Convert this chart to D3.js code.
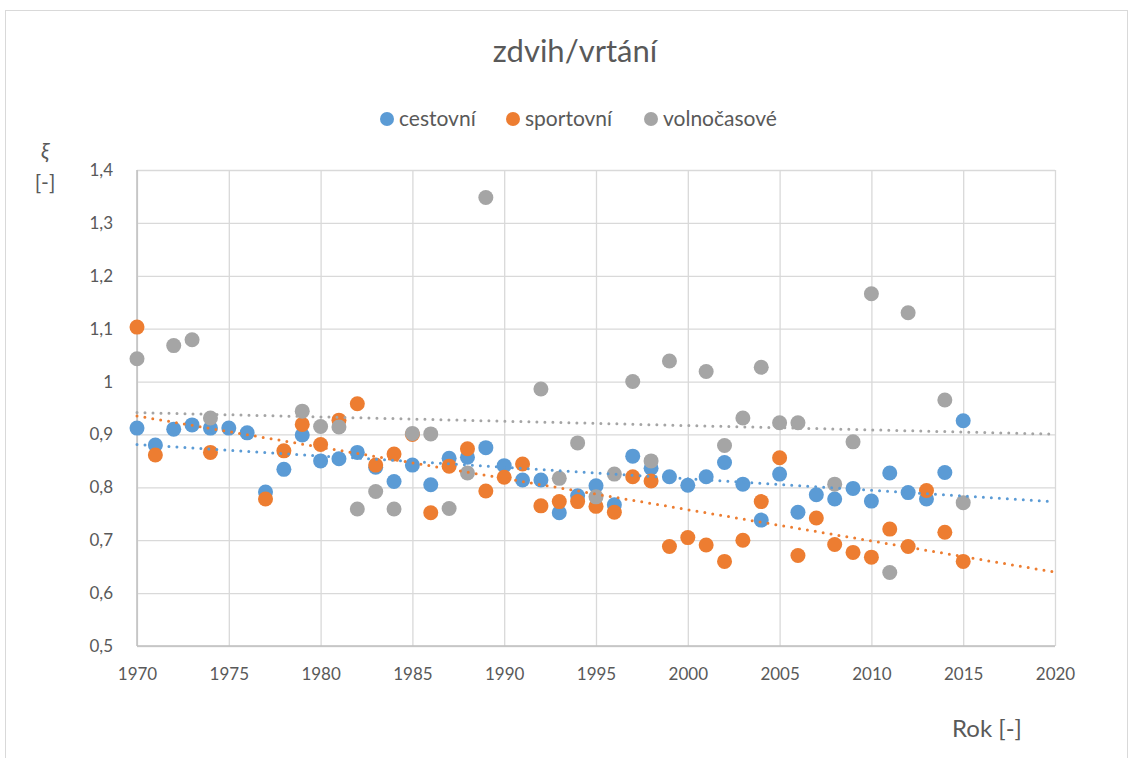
<!DOCTYPE html>
<html>
<head>
<meta charset="utf-8">
<script src="https://cdn.jsdelivr.net/npm/d3@7"></script>
<style>
  body { margin: 0; background: #fff; }
  text { font-family: Lato, "Open Sans", sans-serif; fill: #595959; }
</style>
</head>
<body>
<script>
// series data
var seriesNames = ["cestovní", "sportovní", "volnočasové"];
var seriesColors = ["#5b9bd5", "#ed7d31", "#a5a5a5"];

var cestovniYears = d3.range(1970, 2016);
var cestovniValues = [0.912, 0.880, 0.910, 0.918, 0.912, 0.912, 0.903, 0.791, 0.834, 0.899,
  0.850, 0.854, 0.866, 0.838, 0.811, 0.842, 0.805, 0.855, 0.857, 0.875,
  0.841, 0.814, 0.814, 0.752, 0.784, 0.803, 0.767, 0.859, 0.836, 0.820,
  0.804, 0.820, 0.847, 0.806, 0.738, 0.825, 0.753, 0.786, 0.778, 0.798,
  0.774, 0.827, 0.790, 0.778, 0.828, 0.926];

var sportovniYears = [1970, 1971, 1974, 1977, 1978, 1979, 1980, 1981, 1982, 1983, 1984, 1985,
  1986, 1987, 1988, 1989, 1990, 1991, 1992, 1993, 1994, 1995, 1996, 1997, 1998, 1999, 2000,
  2001, 2002, 2003, 2004, 2005, 2006, 2007, 2008, 2009, 2010, 2011, 2012, 2013, 2014, 2015];
var sportovniValues = [1.103, 0.861, 0.866, 0.778, 0.869, 0.919, 0.881, 0.927, 0.958, 0.842, 0.863, 0.900,
  0.752, 0.840, 0.873, 0.793, 0.819, 0.844, 0.765, 0.773, 0.773, 0.764, 0.753, 0.820, 0.812, 0.688, 0.705,
  0.691, 0.660, 0.700, 0.773, 0.856, 0.671, 0.742, 0.692, 0.677, 0.668, 0.721, 0.688, 0.794, 0.715, 0.660];

var volnocasoveYears = [1970, 1972, 1973, 1974, 1979, 1980, 1981, 1982, 1983, 1984, 1985, 1986,
  1987, 1988, 1989, 1992, 1993, 1994, 1995, 1996, 1997, 1998, 1999, 2001, 2002, 2003, 2004,
  2005, 2006, 2008, 2009, 2010, 2011, 2012, 2014, 2015];
var volnocasoveValues = [1.043, 1.068, 1.079, 0.931, 0.944, 0.915, 0.914, 0.759, 0.792, 0.759, 0.902, 0.901,
  0.760, 0.827, 1.348, 0.986, 0.817, 0.884, 0.782, 0.825, 1.000, 0.850, 1.039, 1.019, 0.879, 0.931, 1.027,
  0.922, 0.922, 0.806, 0.886, 1.166, 0.639, 1.130, 0.965, 0.771];

var xTicks = d3.range(1970, 2021, 5);
var yTicks = [0.5, 0.6, 0.7, 0.8, 0.9, 1.0, 1.1, 1.2, 1.3, 1.4];

window.onload = function() {
  var W = 1133, H = 758;
  var margin = { top: 170, left: 137 };
  var width = 918, height = 476;

  var svg = d3.select("body").append("svg")
    .attr("width", W)
    .attr("height", H);

  // chart frame
  svg.append("rect")
    .attr("x", 5.5).attr("y", 10.5)
    .attr("width", 1122).attr("height", 760)
    .attr("fill", "none")
    .attr("stroke", "#d9d9d9");

  var g = svg.append("g")
    .attr("transform", "translate(" + margin.left + "," + margin.top + ")");

  var x = d3.scaleLinear().domain([1970, 2020]).range([0, width]);
  var y = d3.scaleLinear().domain([0.5, 1.4]).range([height, 0]);

  var fmt = function(v) { return String(+v.toFixed(1)).replace(".", ","); };

  // gridlines
  g.append("g")
    .call(d3.axisLeft(y).tickValues(yTicks).tickSize(-width).tickFormat(""))
    .call(function(s) {
      s.select(".domain").remove();
      s.selectAll("line").attr("stroke", "#d9d9d9").attr("stroke-width", 1.3);
    });
  g.append("g")
    .attr("transform", "translate(0," + height + ")")
    .call(d3.axisBottom(x).tickValues(xTicks).tickSize(-height).tickFormat(""))
    .call(function(s) {
      s.select(".domain").remove();
      s.selectAll("line").attr("stroke", "#d9d9d9").attr("stroke-width", 1.3);
    });

  // axis lines
  g.append("line").attr("x1", 0).attr("x2", 0).attr("y1", 0).attr("y2", height)
    .attr("stroke", "#bfbfbf").attr("stroke-width", 1.5);
  g.append("line").attr("x1", 0).attr("x2", width).attr("y1", height).attr("y2", height)
    .attr("stroke", "#bfbfbf").attr("stroke-width", 1.5);

  // tick labels
  g.append("g")
    .call(d3.axisLeft(y).tickValues(yTicks).tickSize(0).tickPadding(24).tickFormat(fmt))
    .call(function(s) {
      s.select(".domain").remove();
      s.selectAll("text").style("font-size", "17px").attr("fill", "#595959")
        .style("font-family", "Lato, sans-serif");
    });
  g.append("g")
    .attr("transform", "translate(0," + height + ")")
    .call(d3.axisBottom(x).tickValues(xTicks).tickSize(0).tickPadding(22).tickFormat(d3.format("d")))
    .call(function(s) {
      s.select(".domain").remove();
      s.selectAll("text").style("font-size", "17px").attr("fill", "#595959")
        .style("font-family", "Lato, sans-serif");
    });

  var series = [
    { name: seriesNames[0], color: seriesColors[0], years: cestovniYears, values: cestovniValues },
    { name: seriesNames[1], color: seriesColors[1], years: sportovniYears, values: sportovniValues },
    { name: seriesNames[2], color: seriesColors[2], years: volnocasoveYears, values: volnocasoveValues }
  ];

  // points
  series.forEach(function(s) {
    var pts = s.years.map(function(yr, i) { return { x: yr, y: s.values[i] }; });
    g.append("g").selectAll("circle")
      .data(pts)
      .enter().append("circle")
      .attr("cx", function(d) { return x(d.x); })
      .attr("cy", function(d) { return y(d.y); })
      .attr("r", 7.5)
      .attr("fill", s.color);
  });

  // linear trend lines, fitted to each series, shown 1970 - 2020
  series.forEach(function(s) {
    var mx = d3.mean(s.years), my = d3.mean(s.values);
    var num = 0, den = 0;
    s.years.forEach(function(yr, i) {
      num += (yr - mx) * (s.values[i] - my);
      den += (yr - mx) * (yr - mx);
    });
    var slope = num / den, icpt = my - slope * mx;
    g.append("line")
      .attr("x1", x(1970)).attr("y1", y(icpt + slope * 1970))
      .attr("x2", x(2020)).attr("y2", y(icpt + slope * 2020))
      .attr("stroke", s.color)
      .attr("stroke-width", 3)
      .attr("stroke-linecap", "round")
      .attr("stroke-dasharray", "0 8");
  });

  // title
  svg.append("text")
    .attr("x", 575).attr("y", 62)
    .attr("text-anchor", "middle")
    .style("font-size", "31px")
    .text("zdvih/vrtání");

  // legend
  var legendX = [387, 513, 651];
  var legend = svg.selectAll(".legend")
    .data(series)
    .enter().append("g")
    .attr("class", "legend")
    .attr("transform", function(d, i) { return "translate(" + legendX[i] + ",119)"; });
  legend.append("circle").attr("r", 7).attr("fill", function(d) { return d.color; });
  legend.append("text")
    .attr("x", 12).attr("dy", "0.35em")
    .style("font-size", "21px")
    .text(function(d) { return d.name; });

  // axis titles
  svg.append("text")
    .attr("x", 45).attr("y", 158)
    .attr("text-anchor", "middle")
    .style("font-size", "22px")
    .style("font-style", "italic")
    .text("ξ");
  svg.append("text")
    .attr("x", 45).attr("y", 190)
    .attr("text-anchor", "middle")
    .style("font-size", "21px")
    .text("[-]");
  svg.append("text")
    .attr("x", 987).attr("y", 737)
    .attr("text-anchor", "middle")
    .style("font-size", "24px")
    .text("Rok [-]");
};
</script>
</body>
</html>
